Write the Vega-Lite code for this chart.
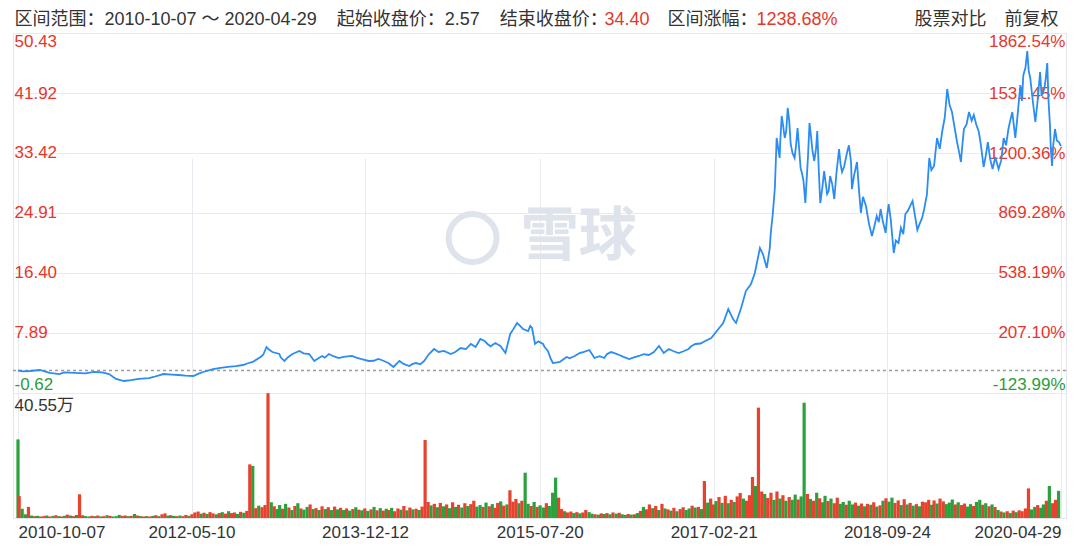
{
  "$schema": "https://vega.github.io/schema/vega-lite/v6.json",
  "width": 1053,
  "height": 485,
  "autosize": {"type": "none"},
  "padding": {"left": 13, "top": 33, "right": 14, "bottom": 30},
  "background": "white",
  "datasets": {
    "price": [
      {"date":"2010-10-07","close":2.57},{"date":"2010-10-25","close":2.45},{"date":"2010-11-16","close":2.50},{"date":"2010-12-19","close":2.64},{"date":"2011-01-21","close":2.22},{"date":"2011-02-23","close":2.07},{"date":"2011-03-10","close":2.30},{"date":"2011-04-14","close":2.22},{"date":"2011-05-20","close":2.15},{"date":"2011-06-19","close":2.36},{"date":"2011-07-15","close":2.30},{"date":"2011-08-08","close":2.07},{"date":"2011-08-31","close":1.37},{"date":"2011-09-27","close":1.08},{"date":"2011-10-20","close":1.20},{"date":"2011-11-16","close":1.37},{"date":"2011-12-20","close":1.50},{"date":"2012-01-04","close":1.65},{"date":"2012-02-06","close":2.07},{"date":"2012-03-05","close":2.00},{"date":"2012-03-27","close":1.93},{"date":"2012-04-20","close":1.85},{"date":"2012-05-16","close":1.79},{"date":"2012-06-01","close":2.10},{"date":"2012-06-18","close":2.36},{"date":"2012-07-21","close":2.78},{"date":"2012-08-15","close":2.95},{"date":"2012-09-09","close":3.07},{"date":"2012-10-05","close":3.20},{"date":"2012-10-29","close":3.35},{"date":"2012-11-15","close":3.60},{"date":"2012-12-01","close":3.78},{"date":"2012-12-27","close":4.49},{"date":"2013-01-05","close":4.80},{"date":"2013-01-16","close":5.90},{"date":"2013-01-25","close":5.50},{"date":"2013-02-05","close":5.19},{"date":"2013-02-28","close":4.91},{"date":"2013-03-05","close":4.40},{"date":"2013-03-17","close":3.92},{"date":"2013-03-30","close":4.50},{"date":"2013-04-13","close":4.91},{"date":"2013-05-06","close":5.34},{"date":"2013-05-20","close":5.00},{"date":"2013-06-08","close":4.91},{"date":"2013-06-25","close":3.92},{"date":"2013-07-05","close":4.20},{"date":"2013-07-21","close":4.63},{"date":"2013-07-30","close":4.40},{"date":"2013-08-13","close":4.91},{"date":"2013-08-28","close":4.60},{"date":"2013-09-15","close":4.34},{"date":"2013-10-01","close":4.50},{"date":"2013-10-29","close":4.63},{"date":"2013-11-15","close":4.35},{"date":"2013-12-01","close":4.20},{"date":"2013-12-24","close":3.92},{"date":"2014-01-10","close":3.95},{"date":"2014-01-25","close":4.20},{"date":"2014-02-05","close":4.06},{"date":"2014-02-28","close":3.63},{"date":"2014-03-17","close":3.07},{"date":"2014-04-06","close":3.92},{"date":"2014-04-20","close":3.50},{"date":"2014-05-09","close":3.21},{"date":"2014-05-20","close":3.50},{"date":"2014-06-01","close":3.63},{"date":"2014-06-15","close":3.45},{"date":"2014-06-28","close":3.92},{"date":"2014-07-14","close":4.91},{"date":"2014-07-31","close":5.62},{"date":"2014-08-15","close":5.20},{"date":"2014-09-02","close":5.34},{"date":"2014-09-25","close":4.91},{"date":"2014-10-10","close":5.20},{"date":"2014-10-28","close":5.76},{"date":"2014-11-15","close":5.60},{"date":"2014-12-01","close":6.33},{"date":"2014-12-17","close":5.90},{"date":"2015-01-02","close":7.04},{"date":"2015-01-15","close":6.80},{"date":"2015-01-26","close":6.33},{"date":"2015-02-05","close":6.00},{"date":"2015-02-21","close":6.47},{"date":"2015-03-10","close":6.05},{"date":"2015-03-27","close":5.05},{"date":"2015-04-12","close":7.75},{"date":"2015-04-22","close":8.40},{"date":"2015-05-05","close":9.31},{"date":"2015-05-15","close":8.90},{"date":"2015-05-25","close":8.46},{"date":"2015-06-11","close":8.17},{"date":"2015-06-18","close":8.90},{"date":"2015-06-24","close":8.60},{"date":"2015-07-04","close":6.33},{"date":"2015-07-15","close":6.70},{"date":"2015-07-31","close":6.33},{"date":"2015-08-05","close":5.90},{"date":"2015-08-16","close":5.34},{"date":"2015-08-26","close":4.20},{"date":"2015-09-02","close":3.63},{"date":"2015-09-12","close":3.70},{"date":"2015-09-25","close":3.78},{"date":"2015-10-05","close":4.10},{"date":"2015-10-18","close":4.49},{"date":"2015-10-28","close":4.30},{"date":"2015-11-14","close":4.63},{"date":"2015-11-30","close":5.05},{"date":"2015-12-15","close":5.20},{"date":"2016-01-02","close":5.48},{"date":"2016-01-19","close":4.34},{"date":"2016-02-05","close":4.60},{"date":"2016-02-21","close":4.34},{"date":"2016-03-01","close":4.90},{"date":"2016-03-15","close":5.19},{"date":"2016-03-28","close":5.00},{"date":"2016-04-11","close":4.77},{"date":"2016-04-25","close":4.50},{"date":"2016-05-14","close":4.20},{"date":"2016-05-28","close":4.40},{"date":"2016-06-16","close":4.63},{"date":"2016-07-02","close":4.90},{"date":"2016-07-19","close":4.77},{"date":"2016-08-05","close":5.20},{"date":"2016-08-22","close":6.05},{"date":"2016-09-07","close":5.05},{"date":"2016-09-24","close":5.62},{"date":"2016-10-10","close":5.30},{"date":"2016-10-27","close":5.05},{"date":"2016-11-12","close":5.30},{"date":"2016-11-29","close":5.62},{"date":"2016-12-08","close":6.00},{"date":"2016-12-22","close":6.33},{"date":"2017-01-08","close":6.40},{"date":"2017-01-24","close":6.75},{"date":"2017-02-13","close":7.18},{"date":"2017-03-09","close":8.46},{"date":"2017-03-25","close":9.31},{"date":"2017-04-11","close":11.29},{"date":"2017-04-27","close":9.87},{"date":"2017-05-07","close":9.31},{"date":"2017-05-24","close":11.43},{"date":"2017-06-09","close":13.84},{"date":"2017-06-26","close":14.84},{"date":"2017-07-09","close":16.40},{"date":"2017-07-26","close":19.94},{"date":"2017-08-05","close":19.09},{"date":"2017-08-18","close":17.11},{"date":"2017-08-28","close":19.94},{"date":"2017-08-31","close":21.93},{"date":"2017-09-07","close":24.76},{"date":"2017-09-14","close":28.45},{"date":"2017-09-20","close":35.54},{"date":"2017-09-30","close":32.71},{"date":"2017-10-02","close":35.00},{"date":"2017-10-07","close":38.66},{"date":"2017-10-12","close":37.20},{"date":"2017-10-17","close":35.54},{"date":"2017-10-22","close":36.50},{"date":"2017-10-27","close":39.80},{"date":"2017-11-01","close":38.00},{"date":"2017-11-06","close":34.69},{"date":"2017-11-12","close":33.40},{"date":"2017-11-19","close":32.71},{"date":"2017-11-24","close":34.50},{"date":"2017-11-29","close":36.96},{"date":"2017-12-04","close":34.20},{"date":"2017-12-09","close":31.29},{"date":"2017-12-14","close":30.50},{"date":"2017-12-19","close":29.44},{"date":"2017-12-25","close":26.32},{"date":"2018-01-03","close":33.00},{"date":"2018-01-08","close":37.67},{"date":"2018-01-13","close":35.80},{"date":"2018-01-18","close":33.70},{"date":"2018-01-24","close":32.28},{"date":"2018-01-30","close":34.10},{"date":"2018-02-03","close":36.53},{"date":"2018-02-08","close":31.00},{"date":"2018-02-13","close":26.32},{"date":"2018-02-20","close":28.50},{"date":"2018-02-26","close":30.86},{"date":"2018-03-03","close":29.20},{"date":"2018-03-08","close":27.60},{"date":"2018-03-13","close":28.00},{"date":"2018-03-18","close":30.15},{"date":"2018-03-25","close":29.00},{"date":"2018-04-01","close":26.89},{"date":"2018-04-08","close":30.50},{"date":"2018-04-17","close":33.98},{"date":"2018-04-22","close":31.80},{"date":"2018-04-27","close":30.72},{"date":"2018-05-04","close":31.50},{"date":"2018-05-14","close":33.56},{"date":"2018-05-20","close":34.50},{"date":"2018-05-27","close":32.14},{"date":"2018-05-30","close":28.31},{"date":"2018-06-06","close":30.20},{"date":"2018-06-16","close":32.14},{"date":"2018-06-22","close":28.50},{"date":"2018-06-29","close":24.91},{"date":"2018-07-06","close":27.20},{"date":"2018-07-16","close":25.90},{"date":"2018-07-26","close":23.40},{"date":"2018-08-05","close":21.64},{"date":"2018-08-13","close":23.00},{"date":"2018-08-21","close":24.48},{"date":"2018-08-28","close":23.60},{"date":"2018-09-03","close":25.47},{"date":"2018-09-10","close":23.80},{"date":"2018-09-20","close":22.07},{"date":"2018-09-25","close":24.50},{"date":"2018-09-30","close":26.18},{"date":"2018-10-07","close":24.00},{"date":"2018-10-17","close":19.23},{"date":"2018-10-24","close":21.00},{"date":"2018-11-02","close":20.65},{"date":"2018-11-10","close":22.80},{"date":"2018-11-18","close":21.90},{"date":"2018-11-25","close":24.76},{"date":"2018-12-03","close":25.20},{"date":"2018-12-19","close":26.61},{"date":"2018-12-28","close":24.30},{"date":"2019-01-04","close":22.50},{"date":"2019-01-12","close":23.40},{"date":"2019-01-20","close":24.20},{"date":"2019-01-27","close":25.47},{"date":"2019-02-05","close":27.50},{"date":"2019-02-13","close":32.71},{"date":"2019-02-20","close":31.00},{"date":"2019-03-01","close":31.57},{"date":"2019-03-06","close":33.60},{"date":"2019-03-11","close":35.54},{"date":"2019-03-20","close":34.00},{"date":"2019-03-28","close":36.39},{"date":"2019-04-06","close":38.50},{"date":"2019-04-14","close":42.49},{"date":"2019-04-22","close":40.20},{"date":"2019-04-30","close":39.23},{"date":"2019-05-08","close":37.20},{"date":"2019-05-17","close":34.97},{"date":"2019-05-24","close":33.50},{"date":"2019-05-30","close":32.14},{"date":"2019-06-03","close":34.20},{"date":"2019-06-09","close":36.82},{"date":"2019-06-18","close":37.50},{"date":"2019-06-26","close":39.23},{"date":"2019-07-05","close":38.00},{"date":"2019-07-12","close":38.80},{"date":"2019-07-20","close":37.50},{"date":"2019-07-29","close":36.39},{"date":"2019-08-05","close":34.50},{"date":"2019-08-14","close":31.43},{"date":"2019-08-21","close":33.00},{"date":"2019-08-28","close":34.97},{"date":"2019-09-05","close":32.50},{"date":"2019-09-13","close":31.15},{"date":"2019-09-22","close":32.80},{"date":"2019-10-03","close":31.15},{"date":"2019-10-12","close":32.40},{"date":"2019-10-20","close":35.54},{"date":"2019-10-28","close":34.50},{"date":"2019-11-05","close":36.82},{"date":"2019-11-11","close":38.00},{"date":"2019-11-18","close":39.23},{"date":"2019-11-24","close":37.00},{"date":"2019-11-28","close":35.54},{"date":"2019-12-05","close":38.50},{"date":"2019-12-15","close":43.06},{"date":"2019-12-20","close":40.80},{"date":"2019-12-25","close":44.48},{"date":"2020-01-01","close":45.50},{"date":"2020-01-07","close":47.88},{"date":"2020-01-12","close":45.00},{"date":"2020-01-17","close":44.05},{"date":"2020-01-25","close":41.00},{"date":"2020-02-03","close":37.81},{"date":"2020-02-10","close":40.50},{"date":"2020-02-19","close":44.90},{"date":"2020-02-24","close":41.50},{"date":"2020-03-04","close":42.49},{"date":"2020-03-09","close":44.00},{"date":"2020-03-14","close":46.18},{"date":"2020-03-18","close":41.00},{"date":"2020-03-23","close":37.39},{"date":"2020-03-26","close":34.00},{"date":"2020-03-30","close":31.57},{"date":"2020-04-03","close":34.50},{"date":"2020-04-09","close":36.82},{"date":"2020-04-15","close":35.20},{"date":"2020-04-22","close":34.97},{"date":"2020-04-29","close":34.40}
    ],
    "volume": [
      {"date":"2010-10-07","vol":25.5,"dir":"down"},{"date":"2010-10-11","vol":7.1,"dir":"up"},{"date":"2010-10-21","vol":3.0,"dir":"down"},
      {"date":"2010-11-01","vol":1.2,"dir":"down"},{"date":"2010-11-11","vol":3.6,"dir":"up"},{"date":"2010-11-21","vol":0.8,"dir":"down"},
      {"date":"2010-12-01","vol":0.6,"dir":"up"},{"date":"2010-12-11","vol":0.7,"dir":"down"},{"date":"2010-12-21","vol":0.5,"dir":"up"},
      {"date":"2011-01-01","vol":0.6,"dir":"up"},{"date":"2011-01-11","vol":0.8,"dir":"down"},{"date":"2011-01-21","vol":0.5,"dir":"up"},
      {"date":"2011-02-01","vol":0.7,"dir":"down"},{"date":"2011-02-11","vol":0.9,"dir":"up"},{"date":"2011-02-21","vol":0.6,"dir":"down"},
      {"date":"2011-03-01","vol":0.5,"dir":"up"},{"date":"2011-03-11","vol":0.7,"dir":"down"},{"date":"2011-03-21","vol":1.1,"dir":"up"},
      {"date":"2011-04-01","vol":0.8,"dir":"down"},{"date":"2011-04-11","vol":0.6,"dir":"up"},{"date":"2011-04-21","vol":1.0,"dir":"down"},
      {"date":"2011-05-01","vol":7.7,"dir":"up"},{"date":"2011-05-11","vol":0.9,"dir":"up"},{"date":"2011-05-21","vol":0.6,"dir":"down"},
      {"date":"2011-06-01","vol":0.5,"dir":"down"},{"date":"2011-06-11","vol":0.7,"dir":"up"},{"date":"2011-06-21","vol":0.6,"dir":"down"},
      {"date":"2011-07-01","vol":0.8,"dir":"up"},{"date":"2011-07-11","vol":0.5,"dir":"down"},{"date":"2011-07-21","vol":0.6,"dir":"up"},
      {"date":"2011-08-01","vol":0.9,"dir":"down"},{"date":"2011-08-11","vol":0.7,"dir":"up"},{"date":"2011-08-21","vol":0.5,"dir":"down"},
      {"date":"2011-09-01","vol":0.6,"dir":"down"},{"date":"2011-09-11","vol":1.0,"dir":"down"},{"date":"2011-09-21","vol":0.7,"dir":"up"},
      {"date":"2011-10-01","vol":0.8,"dir":"up"},{"date":"2011-10-11","vol":0.6,"dir":"down"},{"date":"2011-10-21","vol":0.7,"dir":"up"},
      {"date":"2011-11-01","vol":1.3,"dir":"down"},{"date":"2011-11-11","vol":0.8,"dir":"up"},{"date":"2011-11-21","vol":0.6,"dir":"down"},
      {"date":"2011-12-01","vol":0.5,"dir":"up"},{"date":"2011-12-11","vol":0.6,"dir":"down"},{"date":"2011-12-21","vol":0.5,"dir":"up"},
      {"date":"2012-01-01","vol":0.7,"dir":"down"},{"date":"2012-01-11","vol":0.9,"dir":"up"},{"date":"2012-01-21","vol":0.6,"dir":"down"},
      {"date":"2012-02-01","vol":1.2,"dir":"up"},{"date":"2012-02-11","vol":1.5,"dir":"up"},{"date":"2012-02-21","vol":0.8,"dir":"down"},
      {"date":"2012-03-01","vol":0.9,"dir":"up"},{"date":"2012-03-11","vol":0.7,"dir":"down"},{"date":"2012-03-21","vol":0.6,"dir":"up"},
      {"date":"2012-04-01","vol":0.8,"dir":"down"},{"date":"2012-04-11","vol":0.6,"dir":"up"},{"date":"2012-04-21","vol":1.0,"dir":"up"},
      {"date":"2012-05-01","vol":0.7,"dir":"down"},{"date":"2012-05-11","vol":1.2,"dir":"up"},{"date":"2012-05-21","vol":1.8,"dir":"up"},
      {"date":"2012-06-01","vol":2.1,"dir":"up"},{"date":"2012-06-11","vol":1.4,"dir":"down"},{"date":"2012-06-21","vol":1.7,"dir":"up"},
      {"date":"2012-07-01","vol":1.3,"dir":"down"},{"date":"2012-07-11","vol":1.9,"dir":"up"},{"date":"2012-07-21","vol":1.5,"dir":"up"},
      {"date":"2012-08-01","vol":1.2,"dir":"down"},{"date":"2012-08-11","vol":1.6,"dir":"up"},{"date":"2012-08-21","vol":1.9,"dir":"down"},
      {"date":"2012-09-01","vol":1.4,"dir":"up"},{"date":"2012-09-11","vol":2.2,"dir":"down"},{"date":"2012-09-21","vol":1.6,"dir":"up"},
      {"date":"2012-10-01","vol":1.8,"dir":"up"},{"date":"2012-10-11","vol":1.3,"dir":"down"},{"date":"2012-10-21","vol":2.0,"dir":"up"},
      {"date":"2012-11-01","vol":1.7,"dir":"down"},{"date":"2012-11-11","vol":2.3,"dir":"up"},{"date":"2012-11-21","vol":17.4,"dir":"up"},
      {"date":"2012-12-01","vol":16.9,"dir":"down"},{"date":"2012-12-11","vol":3.2,"dir":"up"},{"date":"2012-12-21","vol":4.0,"dir":"down"},
      {"date":"2013-01-01","vol":3.5,"dir":"up"},{"date":"2013-01-11","vol":4.2,"dir":"up"},{"date":"2013-01-21","vol":40.5,"dir":"up"},
      {"date":"2013-02-01","vol":5.1,"dir":"down"},{"date":"2013-02-11","vol":3.8,"dir":"up"},{"date":"2013-02-21","vol":2.9,"dir":"down"},
      {"date":"2013-03-01","vol":4.2,"dir":"down"},{"date":"2013-03-11","vol":3.0,"dir":"up"},{"date":"2013-03-21","vol":4.6,"dir":"down"},
      {"date":"2013-04-01","vol":3.4,"dir":"up"},{"date":"2013-04-11","vol":2.6,"dir":"down"},{"date":"2013-04-21","vol":3.9,"dir":"up"},
      {"date":"2013-05-01","vol":4.8,"dir":"down"},{"date":"2013-05-11","vol":3.1,"dir":"up"},{"date":"2013-05-21","vol":2.7,"dir":"down"},
      {"date":"2013-06-01","vol":3.6,"dir":"down"},{"date":"2013-06-11","vol":4.4,"dir":"up"},{"date":"2013-06-21","vol":2.9,"dir":"down"},
      {"date":"2013-07-01","vol":3.2,"dir":"up"},{"date":"2013-07-11","vol":2.6,"dir":"down"},{"date":"2013-07-21","vol":3.8,"dir":"up"},
      {"date":"2013-08-01","vol":2.9,"dir":"down"},{"date":"2013-08-11","vol":3.5,"dir":"up"},{"date":"2013-08-21","vol":2.6,"dir":"down"},
      {"date":"2013-09-01","vol":3.7,"dir":"up"},{"date":"2013-09-11","vol":2.8,"dir":"down"},{"date":"2013-09-21","vol":3.3,"dir":"up"},
      {"date":"2013-10-01","vol":2.6,"dir":"down"},{"date":"2013-10-11","vol":3.1,"dir":"up"},{"date":"2013-10-21","vol":2.4,"dir":"down"},
      {"date":"2013-11-01","vol":2.9,"dir":"up"},{"date":"2013-11-11","vol":3.5,"dir":"down"},{"date":"2013-11-21","vol":2.7,"dir":"up"},
      {"date":"2013-12-01","vol":2.5,"dir":"down"},{"date":"2013-12-11","vol":3.1,"dir":"up"},{"date":"2013-12-21","vol":2.3,"dir":"down"},
      {"date":"2014-01-01","vol":2.8,"dir":"up"},{"date":"2014-01-11","vol":3.6,"dir":"down"},{"date":"2014-01-21","vol":2.5,"dir":"up"},
      {"date":"2014-02-01","vol":3.2,"dir":"down"},{"date":"2014-02-11","vol":2.4,"dir":"up"},{"date":"2014-02-21","vol":3.0,"dir":"down"},
      {"date":"2014-03-01","vol":2.6,"dir":"up"},{"date":"2014-03-11","vol":3.3,"dir":"down"},{"date":"2014-03-21","vol":2.2,"dir":"up"},
      {"date":"2014-04-01","vol":3.1,"dir":"up"},{"date":"2014-04-11","vol":2.7,"dir":"down"},{"date":"2014-04-21","vol":3.9,"dir":"up"},
      {"date":"2014-05-01","vol":2.5,"dir":"down"},{"date":"2014-05-11","vol":3.4,"dir":"up"},{"date":"2014-05-21","vol":2.8,"dir":"down"},
      {"date":"2014-06-01","vol":3.0,"dir":"up"},{"date":"2014-06-11","vol":2.6,"dir":"down"},{"date":"2014-06-21","vol":3.7,"dir":"up"},
      {"date":"2014-07-01","vol":25.3,"dir":"up"},{"date":"2014-07-11","vol":5.2,"dir":"up"},{"date":"2014-07-21","vol":4.1,"dir":"down"},
      {"date":"2014-08-01","vol":4.6,"dir":"up"},{"date":"2014-08-11","vol":3.5,"dir":"down"},{"date":"2014-08-21","vol":4.9,"dir":"up"},
      {"date":"2014-09-01","vol":3.8,"dir":"down"},{"date":"2014-09-11","vol":4.4,"dir":"up"},{"date":"2014-09-21","vol":3.2,"dir":"down"},
      {"date":"2014-10-01","vol":5.1,"dir":"up"},{"date":"2014-10-11","vol":3.6,"dir":"down"},{"date":"2014-10-21","vol":4.3,"dir":"up"},
      {"date":"2014-11-01","vol":3.4,"dir":"down"},{"date":"2014-11-11","vol":4.8,"dir":"up"},{"date":"2014-11-21","vol":3.9,"dir":"down"},
      {"date":"2014-12-01","vol":4.5,"dir":"up"},{"date":"2014-12-11","vol":5.6,"dir":"up"},{"date":"2014-12-21","vol":3.7,"dir":"down"},
      {"date":"2015-01-01","vol":4.2,"dir":"down"},{"date":"2015-01-11","vol":3.6,"dir":"up"},{"date":"2015-01-21","vol":5.0,"dir":"down"},
      {"date":"2015-02-01","vol":3.8,"dir":"up"},{"date":"2015-02-11","vol":4.5,"dir":"down"},{"date":"2015-02-21","vol":3.3,"dir":"up"},
      {"date":"2015-03-01","vol":4.9,"dir":"up"},{"date":"2015-03-11","vol":5.4,"dir":"down"},{"date":"2015-03-21","vol":4.0,"dir":"up"},
      {"date":"2015-04-01","vol":4.4,"dir":"down"},{"date":"2015-04-11","vol":9.0,"dir":"up"},{"date":"2015-04-21","vol":5.3,"dir":"up"},
      {"date":"2015-05-01","vol":6.2,"dir":"up"},{"date":"2015-05-11","vol":4.8,"dir":"down"},{"date":"2015-05-21","vol":5.6,"dir":"up"},
      {"date":"2015-06-01","vol":14.7,"dir":"down"},{"date":"2015-06-11","vol":4.6,"dir":"down"},{"date":"2015-06-21","vol":3.9,"dir":"up"},
      {"date":"2015-07-01","vol":5.2,"dir":"down"},{"date":"2015-07-11","vol":3.6,"dir":"up"},{"date":"2015-07-21","vol":4.1,"dir":"down"},
      {"date":"2015-08-01","vol":3.4,"dir":"down"},{"date":"2015-08-11","vol":4.8,"dir":"up"},{"date":"2015-08-21","vol":3.9,"dir":"down"},
      {"date":"2015-09-01","vol":8.2,"dir":"down"},{"date":"2015-09-11","vol":13.1,"dir":"down"},{"date":"2015-09-21","vol":6.6,"dir":"up"},
      {"date":"2015-10-01","vol":2.9,"dir":"up"},{"date":"2015-10-11","vol":2.2,"dir":"down"},{"date":"2015-10-21","vol":1.8,"dir":"up"},
      {"date":"2015-11-01","vol":2.1,"dir":"up"},{"date":"2015-11-11","vol":1.6,"dir":"down"},{"date":"2015-11-21","vol":1.9,"dir":"up"},
      {"date":"2015-12-01","vol":1.5,"dir":"down"},{"date":"2015-12-11","vol":1.8,"dir":"up"},{"date":"2015-12-21","vol":2.6,"dir":"up"},
      {"date":"2016-01-01","vol":1.9,"dir":"down"},{"date":"2016-01-11","vol":1.4,"dir":"down"},{"date":"2016-01-21","vol":1.2,"dir":"up"},
      {"date":"2016-02-01","vol":1.1,"dir":"down"},{"date":"2016-02-11","vol":1.5,"dir":"up"},{"date":"2016-02-21","vol":1.3,"dir":"down"},
      {"date":"2016-03-01","vol":1.6,"dir":"up"},{"date":"2016-03-11","vol":1.2,"dir":"down"},{"date":"2016-03-21","vol":1.8,"dir":"up"},
      {"date":"2016-04-01","vol":1.4,"dir":"down"},{"date":"2016-04-11","vol":1.7,"dir":"up"},{"date":"2016-04-21","vol":1.2,"dir":"down"},
      {"date":"2016-05-01","vol":1.0,"dir":"down"},{"date":"2016-05-11","vol":1.3,"dir":"up"},{"date":"2016-05-21","vol":1.1,"dir":"down"},
      {"date":"2016-06-01","vol":1.2,"dir":"up"},{"date":"2016-06-11","vol":1.6,"dir":"down"},{"date":"2016-06-21","vol":2.3,"dir":"up"},
      {"date":"2016-07-01","vol":3.6,"dir":"down"},{"date":"2016-07-11","vol":2.8,"dir":"up"},{"date":"2016-07-21","vol":4.4,"dir":"up"},
      {"date":"2016-08-01","vol":3.2,"dir":"down"},{"date":"2016-08-11","vol":3.9,"dir":"up"},{"date":"2016-08-21","vol":2.6,"dir":"down"},
      {"date":"2016-09-01","vol":4.6,"dir":"up"},{"date":"2016-09-11","vol":3.1,"dir":"down"},{"date":"2016-09-21","vol":2.8,"dir":"up"},
      {"date":"2016-10-01","vol":2.4,"dir":"down"},{"date":"2016-10-11","vol":3.3,"dir":"up"},{"date":"2016-10-21","vol":2.2,"dir":"down"},
      {"date":"2016-11-01","vol":2.9,"dir":"up"},{"date":"2016-11-11","vol":3.5,"dir":"up"},{"date":"2016-11-21","vol":2.6,"dir":"down"},
      {"date":"2016-12-01","vol":3.1,"dir":"down"},{"date":"2016-12-11","vol":4.0,"dir":"up"},{"date":"2016-12-21","vol":3.4,"dir":"down"},
      {"date":"2017-01-01","vol":3.6,"dir":"up"},{"date":"2017-01-11","vol":2.9,"dir":"down"},{"date":"2017-01-21","vol":12.0,"dir":"up"},
      {"date":"2017-02-01","vol":5.0,"dir":"down"},{"date":"2017-02-11","vol":6.3,"dir":"up"},{"date":"2017-02-21","vol":4.4,"dir":"up"},
      {"date":"2017-03-01","vol":5.5,"dir":"down"},{"date":"2017-03-11","vol":6.8,"dir":"up"},{"date":"2017-03-21","vol":4.9,"dir":"down"},
      {"date":"2017-04-01","vol":7.2,"dir":"up"},{"date":"2017-04-11","vol":4.8,"dir":"down"},{"date":"2017-04-21","vol":5.9,"dir":"up"},
      {"date":"2017-05-01","vol":5.2,"dir":"down"},{"date":"2017-05-11","vol":7.0,"dir":"up"},{"date":"2017-05-21","vol":8.1,"dir":"up"},
      {"date":"2017-06-01","vol":6.3,"dir":"down"},{"date":"2017-06-11","vol":5.6,"dir":"up"},{"date":"2017-06-21","vol":7.4,"dir":"up"},
      {"date":"2017-07-01","vol":13.3,"dir":"up"},{"date":"2017-07-11","vol":10.4,"dir":"down"},{"date":"2017-07-21","vol":35.8,"dir":"up"},
      {"date":"2017-08-01","vol":8.6,"dir":"up"},{"date":"2017-08-11","vol":7.8,"dir":"down"},{"date":"2017-08-21","vol":6.5,"dir":"up"},
      {"date":"2017-09-01","vol":8.2,"dir":"up"},{"date":"2017-09-11","vol":5.9,"dir":"down"},{"date":"2017-09-21","vol":8.6,"dir":"up"},
      {"date":"2017-10-01","vol":6.3,"dir":"down"},{"date":"2017-10-11","vol":7.4,"dir":"up"},{"date":"2017-10-21","vol":5.6,"dir":"down"},
      {"date":"2017-11-01","vol":6.8,"dir":"up"},{"date":"2017-11-11","vol":5.9,"dir":"down"},{"date":"2017-11-21","vol":7.6,"dir":"down"},
      {"date":"2017-12-01","vol":6.0,"dir":"up"},{"date":"2017-12-11","vol":7.0,"dir":"down"},{"date":"2017-12-21","vol":37.4,"dir":"down"},
      {"date":"2018-01-01","vol":7.8,"dir":"up"},{"date":"2018-01-11","vol":6.2,"dir":"down"},{"date":"2018-01-21","vol":5.6,"dir":"up"},
      {"date":"2018-02-01","vol":8.2,"dir":"down"},{"date":"2018-02-11","vol":6.4,"dir":"up"},{"date":"2018-02-21","vol":5.1,"dir":"down"},
      {"date":"2018-03-01","vol":7.2,"dir":"down"},{"date":"2018-03-11","vol":5.5,"dir":"up"},{"date":"2018-03-21","vol":6.3,"dir":"down"},
      {"date":"2018-04-01","vol":4.8,"dir":"up"},{"date":"2018-04-11","vol":6.6,"dir":"up"},{"date":"2018-04-21","vol":4.6,"dir":"down"},
      {"date":"2018-05-01","vol":5.2,"dir":"down"},{"date":"2018-05-11","vol":4.3,"dir":"up"},{"date":"2018-05-21","vol":5.6,"dir":"down"},
      {"date":"2018-06-01","vol":4.4,"dir":"down"},{"date":"2018-06-11","vol":5.0,"dir":"up"},{"date":"2018-06-21","vol":4.0,"dir":"down"},
      {"date":"2018-07-01","vol":4.7,"dir":"up"},{"date":"2018-07-11","vol":3.8,"dir":"down"},{"date":"2018-07-21","vol":4.6,"dir":"up"},
      {"date":"2018-08-01","vol":4.3,"dir":"down"},{"date":"2018-08-11","vol":5.1,"dir":"up"},{"date":"2018-08-21","vol":3.7,"dir":"down"},
      {"date":"2018-09-01","vol":4.1,"dir":"up"},{"date":"2018-09-11","vol":5.6,"dir":"down"},{"date":"2018-09-21","vol":6.4,"dir":"up"},
      {"date":"2018-10-01","vol":5.3,"dir":"down"},{"date":"2018-10-11","vol":6.6,"dir":"down"},{"date":"2018-10-21","vol":4.9,"dir":"up"},
      {"date":"2018-11-01","vol":5.7,"dir":"up"},{"date":"2018-11-11","vol":4.2,"dir":"down"},{"date":"2018-11-21","vol":6.1,"dir":"up"},
      {"date":"2018-12-01","vol":4.4,"dir":"down"},{"date":"2018-12-11","vol":4.9,"dir":"up"},{"date":"2018-12-21","vol":4.0,"dir":"down"},
      {"date":"2019-01-01","vol":4.5,"dir":"up"},{"date":"2019-01-11","vol":3.8,"dir":"down"},{"date":"2019-01-21","vol":5.3,"dir":"up"},
      {"date":"2019-02-01","vol":5.1,"dir":"up"},{"date":"2019-02-11","vol":5.9,"dir":"up"},{"date":"2019-02-21","vol":4.3,"dir":"down"},
      {"date":"2019-03-01","vol":5.7,"dir":"up"},{"date":"2019-03-11","vol":4.7,"dir":"down"},{"date":"2019-03-21","vol":6.3,"dir":"up"},
      {"date":"2019-04-01","vol":5.4,"dir":"up"},{"date":"2019-04-11","vol":4.5,"dir":"down"},{"date":"2019-04-21","vol":5.0,"dir":"down"},
      {"date":"2019-05-01","vol":6.0,"dir":"down"},{"date":"2019-05-11","vol":4.4,"dir":"up"},{"date":"2019-05-21","vol":5.1,"dir":"down"},
      {"date":"2019-06-01","vol":4.2,"dir":"up"},{"date":"2019-06-11","vol":4.7,"dir":"up"},{"date":"2019-06-21","vol":3.7,"dir":"down"},
      {"date":"2019-07-01","vol":4.5,"dir":"down"},{"date":"2019-07-11","vol":3.9,"dir":"up"},{"date":"2019-07-21","vol":5.2,"dir":"down"},
      {"date":"2019-08-01","vol":5.9,"dir":"down"},{"date":"2019-08-11","vol":4.3,"dir":"up"},{"date":"2019-08-21","vol":4.8,"dir":"down"},
      {"date":"2019-09-01","vol":3.8,"dir":"up"},{"date":"2019-09-11","vol":4.4,"dir":"down"},{"date":"2019-09-21","vol":3.6,"dir":"up"},
      {"date":"2019-10-01","vol":2.6,"dir":"down"},{"date":"2019-10-11","vol":2.1,"dir":"up"},{"date":"2019-10-21","vol":1.8,"dir":"down"},
      {"date":"2019-11-01","vol":2.2,"dir":"up"},{"date":"2019-11-11","vol":1.6,"dir":"down"},{"date":"2019-11-21","vol":2.4,"dir":"up"},
      {"date":"2019-12-01","vol":1.9,"dir":"down"},{"date":"2019-12-11","vol":2.5,"dir":"up"},{"date":"2019-12-21","vol":2.2,"dir":"up"},
      {"date":"2020-01-01","vol":3.1,"dir":"up"},{"date":"2020-01-11","vol":9.6,"dir":"up"},{"date":"2020-01-21","vol":2.8,"dir":"down"},
      {"date":"2020-02-01","vol":3.6,"dir":"down"},{"date":"2020-02-11","vol":4.2,"dir":"up"},{"date":"2020-02-21","vol":3.3,"dir":"down"},
      {"date":"2020-03-01","vol":4.4,"dir":"down"},{"date":"2020-03-11","vol":5.6,"dir":"up"},{"date":"2020-03-21","vol":10.4,"dir":"down"},
      {"date":"2020-04-01","vol":4.8,"dir":"up"},{"date":"2020-04-11","vol":5.9,"dir":"up"},{"date":"2020-04-21","vol":8.8,"dir":"down"}
    ]
  },
  "layer": [
    {
      "data": {"values": [{"chg": 0}]},
      "mark": {"type": "rule", "color": "#9c9c9c", "strokeDash": [3, 3], "strokeWidth": 1.5},
      "encoding": {
        "y": {
          "field": "chg", "type": "quantitative",
          "scale": {"domain": [-123.99, 1862.54], "range": [360, 0], "nice": false, "zero": false},
          "axis": {
            "orient": "right", "grid": false,
            "values": [-123.99, 207.10, 538.19, 869.28, 1200.36, 1531.45, 1862.54],
            "labelExpr": "replace(format(datum.value, '.2f'), '\u2212', '-') + '%'",
            "labelAlign": "right", "labelPadding": -1, "labelFlush": true, "labelFontSize": 17,
            "labelColor": {"condition": {"test": "datum.value < 0", "value": "#2a9d3c"}, "value": "#e5372c"},
            "title": "1238.68%", "titleX": -310, "titleY": -9, "titleColor": "#e5372c"
          }
        }
      }
    },
    {
      "data": {"values": [{"brand": "雪球"}]},
      "layer": [
        {
          "mark": {"type": "point", "shape": "circle", "filled": false, "size": 2300, "strokeWidth": 6, "color": "#dfe3ec", "opacity": 1},
          "encoding": {
            "x": {"datum": {"year": 2014, "month": 12, "date": 7, "utc": true}, "type": "temporal"},
            "y": {"datum": 21.36, "type": "quantitative"}
          }
        },
        {
          "mark": {"type": "text", "fontSize": 58, "fontWeight": "bold", "color": "#dfe3ec", "align": "center", "baseline": "middle", "font": "Noto Sans CJK SC"},
          "encoding": {
            "x": {"datum": {"year": 2015, "month": 11, "date": 27, "utc": true}, "type": "temporal"},
            "y": {"datum": 21.36, "type": "quantitative"},
            "text": {"field": "brand"}
          }
        }
      ],
      "encoding": {
        "y": {
          "type": "quantitative",
          "scale": {"domain": [-0.62, 50.43], "range": [360, 0], "nice": false, "zero": false},
          "axis": {
            "orient": "left", "grid": false, "labels": false,
            "title": "区间范围：2010-10-07 ～ 2020-04-29\u00a0\u00a0\u00a0\u00a0起始收盘价：2.57\u00a0\u00a0\u00a0\u00a0结束收盘价：",
            "titleX": 1, "titleY": -9, "titleColor": "#333333"
          }
        }
      }
    },
    {
      "data": {"name": "price"},
      "mark": {"type": "line", "color": "#2b8cf3", "strokeWidth": 1.8},
      "encoding": {
        "x": {
          "field": "date", "type": "temporal",
          "scale": {"type": "utc", "domain": [{"year": 2010, "month": 10, "date": 7, "utc": true}, {"year": 2020, "month": 4, "date": 29, "utc": true}]},
          "axis": {
            "values": [
              {"year": 2010, "month": 10, "date": 7, "utc": true},
              {"year": 2012, "month": 5, "date": 10, "utc": true},
              {"year": 2013, "month": 12, "date": 12, "utc": true},
              {"year": 2015, "month": 7, "date": 20, "utc": true},
              {"year": 2017, "month": 2, "date": 21, "utc": true},
              {"year": 2018, "month": 9, "date": 24, "utc": true},
              {"year": 2020, "month": 4, "date": 29, "utc": true}
            ],
            "format": "%Y-%m-%d", "grid": true, "labelPadding": 6,
            "labelAlign": {"condition": [{"test": "datum.index == 0", "value": "left"}, {"test": "datum.index == 1", "value": "right"}], "value": "center"},
            "labelColor": "#333333", "labelFontSize": 17,
            "title": "股票对比　前复权", "titleX": 1045, "titleY": -494, "titleAlign": "right", "titleColor": "#333333"
          }
        },
        "y": {
          "field": "close", "type": "quantitative",
          "scale": {"domain": [-0.62, 50.43], "range": [360, 0], "nice": false, "zero": false},
          "axis": {
            "orient": "left", "grid": true,
            "values": [-0.62, 7.89, 16.40, 24.91, 33.42, 41.92, 50.43],
            "labelExpr": "replace(format(datum.value, '.2f'), '\u2212', '-')",
            "labelAlign": "left", "labelPadding": -1, "labelFlush": true, "labelFontSize": 17,
            "labelColor": {"condition": {"test": "datum.value < 0", "value": "#2a9d3c"}, "value": "#e5372c"},
            "title": "34.40", "titleX": 591, "titleY": -9, "titleColor": "#e5372c"
          }
        }
      }
    },
    {
      "data": {"name": "volume"},
      "mark": {"type": "bar", "width": 3.2},
      "encoding": {
        "x": {"field": "date", "type": "temporal"},
        "y": {
          "field": "vol", "type": "quantitative",
          "scale": {"domain": [0, 40.55], "range": [485, 360], "nice": false, "zero": true},
          "axis": {
            "orient": "left", "grid": false, "values": [40.55],
            "labelExpr": "format(datum.value, '.2f') + '万'",
            "labelAlign": "left", "labelPadding": -1, "labelBaseline": "top", "labelOffset": 4, "labelFlush": false,
            "labelColor": "#333333", "labelFontSize": 17,
            "title": "区间涨幅：", "titleX": 654, "titleY": -9, "titleColor": "#333333"
          }
        },
        "color": {
          "field": "dir", "type": "nominal",
          "scale": {"domain": ["up", "down"], "range": ["#e8412e", "#2aa13c"]},
          "legend": null
        }
      }
    }
  ],
  "resolve": {"scale": {"y": "independent"}, "axis": {"y": "independent"}},
  "config": {
    "font": "Liberation Sans, Noto Sans CJK SC, sans-serif",
    "view": {"stroke": "#e2e5ec", "strokeWidth": 1},
    "axis": {
      "domain": false, "ticks": false, "tickSize": 0,
      "gridColor": "#e8eaf0", "gridWidth": 1,
      "labelOverlap": false,
      "titleFontSize": 18, "titleFontWeight": "normal", "titleAngle": 0,
      "titleAlign": "left", "titleBaseline": "alphabetic",
      "titleFont": "Liberation Sans, Noto Sans CJK SC, sans-serif"
    }
  }
}
